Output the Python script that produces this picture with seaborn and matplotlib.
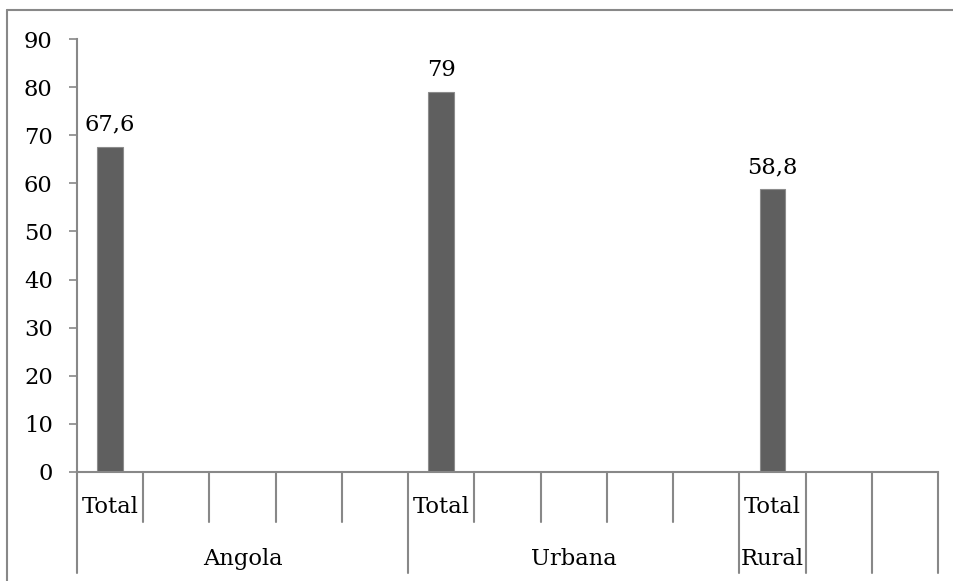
import matplotlib
matplotlib.use("Agg")
import matplotlib.pyplot as plt
from matplotlib.lines import Line2D
import pandas as pd
import seaborn as sns

# Category slots along the x axis (inner level) and their outer groups
slot_labels = ["Total", "", "", "", "", "Total", "", "", "", "", "Total", "", ""]
group_names = ["Angola", "Urbana", "Rural"]
group_spans = [(0, 5), (5, 10), (10, 11)]   # [start, end) slot ranges
group_breaks = [0, 5, 10, 11, 12, 13]        # slot edges with full-depth separators

# Values for the bars (slot index -> value)
bar_slots = [0, 5, 10]
bar_values = [67.6, 79.0, 58.8]

y_ticks = [0, 10, 20, 30, 40, 50, 60, 70, 80, 90]

sns.set_theme(style="white")
plt.rcParams["font.family"] = ["DejaVu Serif"]
FS = 16.3

W, H = 954, 581
fig = plt.figure(figsize=(W / 100, H / 100), dpi=100)
ax = fig.add_axes([77 / W, 1 - 472 / H, (938 - 77) / W, (472 - 39) / H])

df = pd.DataFrame({"slot": bar_slots, "value": bar_values})
sns.barplot(data=df, x="slot", y="value", order=list(range(len(slot_labels))),
            color="#5f5f5f", saturation=1, width=0.39, ax=ax,
            edgecolor="#8c8c8c", linewidth=0.8)

axis_grey = "#888888"
ax.set_xlim(-0.5, len(slot_labels) - 0.5)
ax.set_ylim(0, 90)
ax.set_yticks(y_ticks)
ax.set_yticklabels([str(t) for t in y_ticks], fontsize=FS, color="black")
ax.tick_params(axis="y", direction="out", length=5.5, width=1.2, color=axis_grey, pad=12, left=True)
ax.set_xticks([])
ax.set_xlabel("")
ax.set_ylabel("")
for side in ("top", "right"):
    ax.spines[side].set_visible(False)
for side in ("left", "bottom"):
    ax.spines[side].set_color(axis_grey)
    ax.spines[side].set_linewidth(1.5)

# Value labels above the bars
for patch, v in zip([p for p in ax.patches if p.get_height() > 0], bar_values):
    txt = f"{v:g}".replace(".", ",")
    ax.annotate(txt, (patch.get_x() + patch.get_width() / 2, patch.get_height()),
                xytext=(0, 8), textcoords="offset points", ha="center", va="bottom",
                fontsize=FS, color="black")

# Two-level category axis drawn below the plot area
trans = ax.get_xaxis_transform()
ax_h = 472 - 39
short_depth = -(522 - 472) / ax_h
long_depth = -(573 - 472) / ax_h
for edge in range(len(slot_labels) + 1):
    depth = long_depth if edge in group_breaks else short_depth
    ax.add_line(Line2D([edge - 0.5, edge - 0.5], [0, depth], transform=trans,
                       color=axis_grey, linewidth=1.5, clip_on=False))

inner_y = -(507 - 472) / ax_h
outer_y = -(559 - 472) / ax_h
for i, lab in enumerate(slot_labels):
    if lab:
        ax.text(i, inner_y, lab, transform=trans, ha="center", va="center",
                fontsize=FS, color="black", clip_on=False)
for name, (s, e) in zip(group_names, group_spans):
    ax.text((s + e - 1) / 2, outer_y, name, transform=trans, ha="center", va="center",
            fontsize=FS, color="black", clip_on=False)

# Chart-area frame (left and top edges)
fig_trans = fig.transFigure
fig.add_artist(Line2D([7 / W, 7 / W], [0, 1 - 10 / H], transform=fig_trans,
                      color=axis_grey, linewidth=1.5))
fig.add_artist(Line2D([7 / W, 1.01], [1 - 10 / H, 1 - 10 / H], transform=fig_trans,
                      color=axis_grey, linewidth=1.5))

fig.savefig("out.png", dpi=100)
